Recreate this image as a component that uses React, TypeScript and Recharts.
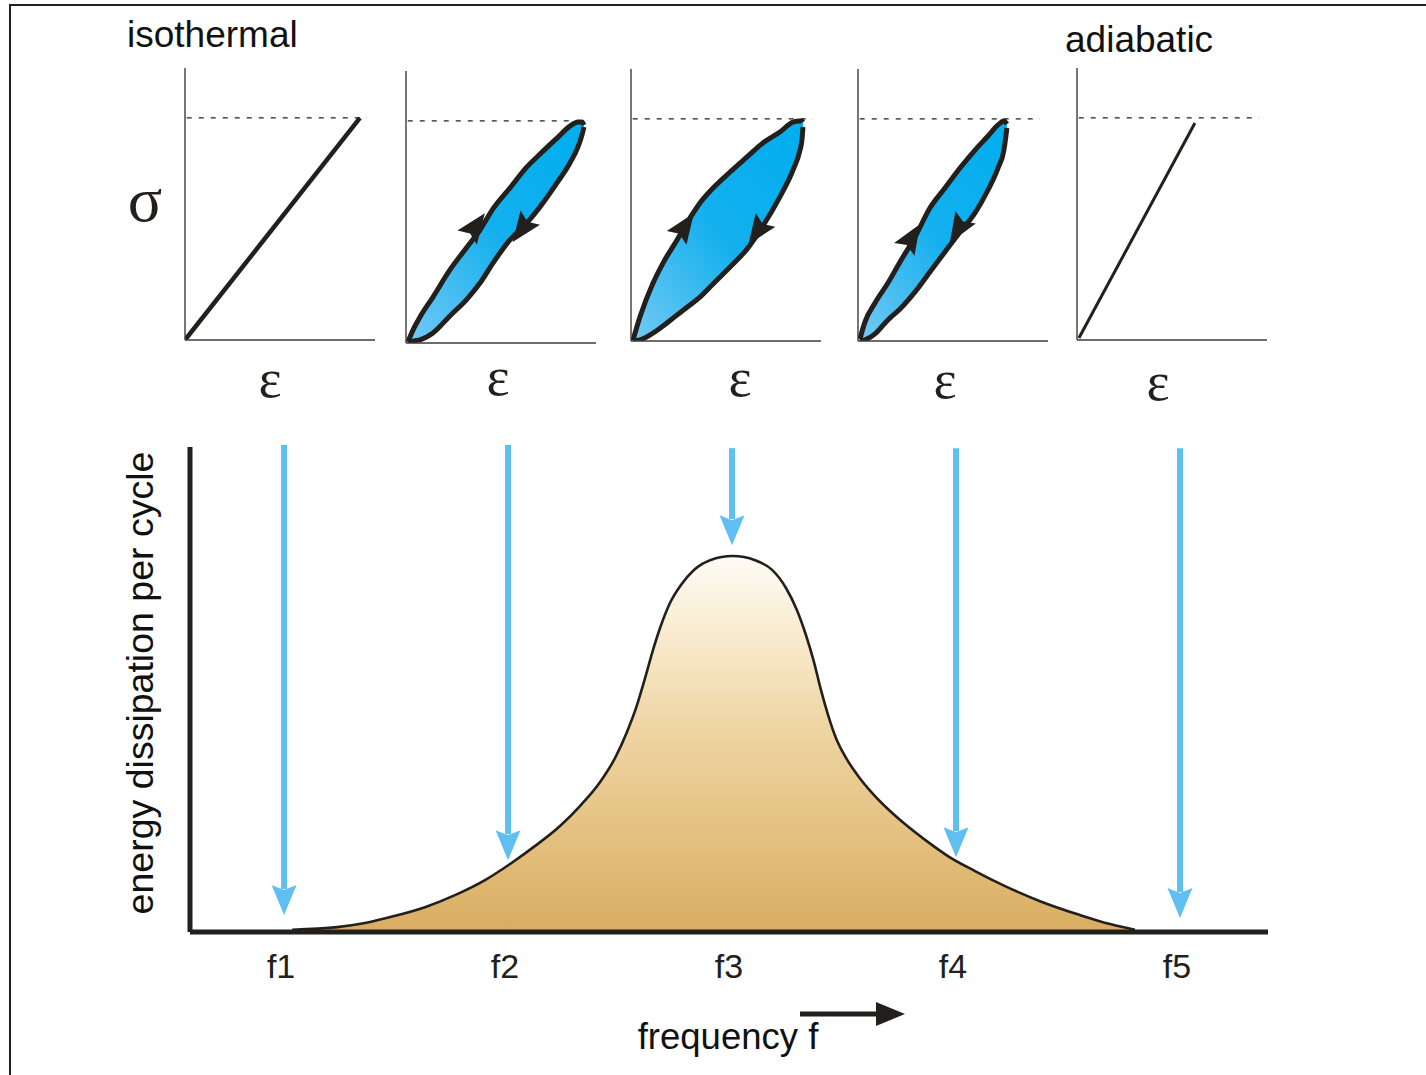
import React from 'react';
import { ComposedChart, Area, Line, Scatter, XAxis, YAxis, ReferenceLine } from 'recharts';

const INK = '#231f1c';
const BLUE = '#60bff2';
const SANS = '"Liberation Sans", Arial, Helvetica, sans-serif';
const SERIF = '"Liberation Serif", "Times New Roman", serif';

// ---- Stress–strain panels -------------------------------------------------
// strain: % of the isothermal peak strain, stress: % of the peak stress (dashed line)

const isothermalLine = [
  { strain: 0, stress: 0 },
  { strain: 100, stress: 100 },
];

const adiabaticLine = [
  { strain: 1.1, stress: 0.9 },
  { strain: 67.4, stress: 97.7 },
];

// hysteresis loops: band = [unloading branch, loading branch]
const loopF2 = [
  { strain: 1.1, band: [0.2, 0.5] },
  { strain: 4.6, band: [0.9, 6.8] },
  { strain: 8.0, band: [1.4, 11.7] },
  { strain: 15.4, band: [4.5, 20.7] },
  { strain: 25.1, band: [12.2, 32.9] },
  { strain: 34.9, band: [19.8, 43.2] },
  { strain: 42.3, band: [27.0, 50.9] },
  { strain: 49.7, band: [36.0, 60.4] },
  { strain: 59.4, band: [46.4, 69.8] },
  { strain: 69.1, band: [54.1, 79.3] },
  { strain: 76.6, band: [61.3, 85.1] },
  { strain: 86.3, band: [72.1, 92.3] },
  { strain: 93.7, band: [81.1, 97.7] },
  { strain: 98.3, band: [88.3, 99.5] },
  { strain: 100.6, band: [93.7, 99.5] },
  { strain: 101.7, band: [97.3, 98.2] },
];

const loopF3 = [
  { strain: 1.1, band: [0, 0.3] },
  { strain: 5.1, band: [0.5, 10.8] },
  { strain: 12.6, band: [3.6, 26.1] },
  { strain: 18.3, band: [6.8, 35.1] },
  { strain: 26.3, band: [11.7, 45.5] },
  { strain: 33.7, band: [16.2, 55.4] },
  { strain: 39.4, band: [19.8, 62.2] },
  { strain: 46.9, band: [25.7, 68.9] },
  { strain: 56.6, band: [33.3, 76.1] },
  { strain: 66.3, band: [41.4, 82.9] },
  { strain: 75.4, band: [51.8, 89.2] },
  { strain: 85.1, band: [64.9, 94.1] },
  { strain: 92.6, band: [77.0, 98.6] },
  { strain: 96.6, band: [86.0, 99.1] },
  { strain: 97.7, band: [90.5, 99.1] },
  { strain: 98.3, band: [96.4, 98.6] },
];

const loopF4 = [
  { strain: 1.1, band: [0, 0.9] },
  { strain: 4.0, band: [0.5, 8.6] },
  { strain: 9.7, band: [3.2, 17.1] },
  { strain: 17.1, band: [9.5, 26.1] },
  { strain: 24.0, band: [14.4, 35.6] },
  { strain: 32.6, band: [22.1, 46.8] },
  { strain: 41.1, band: [31.1, 59.9] },
  { strain: 49.7, band: [40.1, 68.9] },
  { strain: 58.3, band: [49.1, 77.9] },
  { strain: 66.9, band: [57.7, 86.0] },
  { strain: 74.3, band: [68.0, 92.3] },
  { strain: 80.0, band: [77.9, 97.3] },
  { strain: 83.4, band: [86.0, 99.1] },
  { strain: 85.1, band: [95.9, 97.7] },
];

// direction markers on the loops: dir = heading in degrees (screen space)
const arrowsF2 = [
  { strain: 40, stress: 53, dir: -54 },
  { strain: 66, stress: 51, dir: 126 },
];
const arrowsF3 = [
  { strain: 31, stress: 52, dir: -55 },
  { strain: 72, stress: 49, dir: 125 },
];
const arrowsF4 = [
  { strain: 31, stress: 47, dir: -58 },
  { strain: 57, stress: 50, dir: 122 },
];

// ---- Dissipation curve ------------------------------------------------------
const tickValues = [1, 2, 3, 4, 5];
const tickLabels = ['f1', 'f2', 'f3', 'f4', 'f5'];

// energy: % of the peak dissipation
const dissipation = [
  { f: 1.036, energy: 0.6 },
  { f: 1.237, energy: 1.3 },
  { f: 1.362, energy: 2.4 },
  { f: 1.496, energy: 4.3 },
  { f: 1.629, energy: 6.6 },
  { f: 1.763, energy: 9.8 },
  { f: 1.897, energy: 13.8 },
  { f: 2.009, energy: 18.1 },
  { f: 2.121, energy: 22.9 },
  { f: 2.232, energy: 28.2 },
  { f: 2.321, energy: 33.5 },
  { f: 2.411, energy: 39.9 },
  { f: 2.478, energy: 46.3 },
  { f: 2.531, energy: 53.2 },
  { f: 2.576, energy: 60.4 },
  { f: 2.612, energy: 67.6 },
  { f: 2.647, energy: 75.0 },
  { f: 2.683, energy: 81.6 },
  { f: 2.723, energy: 87.5 },
  { f: 2.772, energy: 92.3 },
  { f: 2.83, energy: 96.3 },
  { f: 2.902, energy: 98.9 },
  { f: 3.004, energy: 100 },
  { f: 3.103, energy: 98.9 },
  { f: 3.179, energy: 96.3 },
  { f: 3.241, energy: 91.5 },
  { f: 3.29, energy: 85.6 },
  { f: 3.33, energy: 79.0 },
  { f: 3.366, energy: 71.8 },
  { f: 3.397, energy: 64.4 },
  { f: 3.429, energy: 57.7 },
  { f: 3.464, energy: 51.6 },
  { f: 3.509, energy: 46.3 },
  { f: 3.563, energy: 41.5 },
  { f: 3.625, energy: 37.0 },
  { f: 3.696, energy: 32.7 },
  { f: 3.772, energy: 28.7 },
  { f: 3.862, energy: 24.5 },
  { f: 3.964, energy: 20.2 },
  { f: 4.085, energy: 16.2 },
  { f: 4.219, energy: 12.2 },
  { f: 4.375, energy: 8.2 },
  { f: 4.554, energy: 4.5 },
  { f: 4.688, energy: 2.1 },
  { f: 4.799, energy: 0.6 },
];

// vertical probe arrows at each test frequency
const probes = [
  { f: 1, top: 129.5, tip: 4.5 },
  { f: 2, top: 129.5, tip: 19.1 },
  { f: 3, top: 128.7, tip: 102.9 },
  { f: 4, top: 128.7, tip: 19.9 },
  { f: 5, top: 128.7, tip: 3.7 },
];

// ---- shapes -----------------------------------------------------------------
const LoopArrow = (p: any) => {
  const { cx, cy, payload } = p;
  if (cx == null || cy == null) return null;
  const a = (payload.dir * Math.PI) / 180;
  const L = 30;
  const W = 24;
  const ux = Math.cos(a);
  const uy = Math.sin(a);
  const px = -uy;
  const py = ux;
  const tx = cx + (ux * L) / 2;
  const ty = cy + (uy * L) / 2;
  const bx = cx - (ux * L) / 2;
  const by = cy - (uy * L) / 2;
  const d = `M${tx},${ty} L${bx + (px * W) / 2},${by + (py * W) / 2} L${bx + ux * 5},${by + uy * 5} L${bx - (px * W) / 2},${by - (py * W) / 2} Z`;
  return <path d={d} fill={INK} />;
};

const ProbeArrow = (p: any) => {
  const { x1, y1, y2 } = p;
  const top = Math.min(y1, y2);
  const tip = Math.max(y1, y2);
  const head = 30;
  const half = 12.5;
  return (
    <g>
      <line x1={x1} x2={x1} y1={top} y2={tip - head + 4} stroke={BLUE} strokeWidth={6} />
      <path
        d={`M${x1 - half},${tip - head} L${x1},${tip - head + 5} L${x1 + half},${tip - head} L${x1},${tip} Z`}
        fill={BLUE}
      />
    </g>
  );
};

const FreqTick = (p: any) => {
  const { x, y, payload } = p;
  return (
    <text x={x - 3} y={y + 38} textAnchor="middle" fontFamily={SANS} fontSize={34} fill={INK}>
      {tickLabels[payload.value - 1]}
    </text>
  );
};

// ---- panel ------------------------------------------------------------------
type PanelProps = {
  id: string;
  ox: number;
  oy: number;
  loop?: any[];
  line?: any[];
  lineWidth?: number;
  arrows?: any[];
  epsDx: number;
  epsDy: number;
  title?: string;
  titleX?: number;
  titleY?: number;
  sigma?: boolean;
};

const PW = 190;
const PH = 272;
const ML = 60;
const MT = 60;

function Panel(props: PanelProps) {
  const { id, ox, oy, loop, line, lineWidth = 4.5, arrows, epsDx, epsDy, title, titleX = 0, titleY = 0, sigma } = props;
  const data = loop ?? line ?? [];
  return (
    <div style={{ position: 'absolute', left: ox - ML, top: oy - MT - PH }}>
      <ComposedChart
        width={ML + PW + 10}
        height={MT + PH + 80}
        margin={{ top: MT, right: 10, bottom: 79, left: ML - 1 }}
        data={data}
      >
        <defs>
          <linearGradient id={`loopFill-${id}`} x1="1" y1="0" x2="0" y2="1">
            <stop offset="0" stopColor="#00aeef" />
            <stop offset="0.5" stopColor="#14b0ee" />
            <stop offset="1" stopColor="#74c9f4" />
          </linearGradient>
        </defs>
        <XAxis
          type="number"
          dataKey="strain"
          domain={[0, 108.6]}
          allowDataOverflow
          height={1}
          tick={false}
          tickLine={false}
          axisLine={{ stroke: '#3c3c3c', strokeWidth: 1.4 }}
          label={{
            content: () => (
              <text x={ML + epsDx} y={MT + PH + epsDy} textAnchor="middle" fontFamily={SERIF} fontSize={55} fill={INK}>
                ε
              </text>
            ),
          }}
        />
        <YAxis
          type="number"
          domain={[0, 122.5]}
          allowDataOverflow
          width={1}
          tick={false}
          tickLine={false}
          axisLine={{ stroke: '#3c3c3c', strokeWidth: 1.4 }}
          label={{
            content: () => (
              <g>
                {title ? (
                  <text x={titleX} y={titleY} fontFamily={SANS} fontSize={37} fill="#111">
                    {title}
                  </text>
                ) : null}
                {sigma ? (
                  <text x={ML - 40} y={MT + 153} textAnchor="middle" fontFamily={SERIF} fontSize={64} fill={INK}>
                    σ
                  </text>
                ) : null}
              </g>
            ),
          }}
        />
        <ReferenceLine
          segment={[
            { x: 1, y: 100 },
            { x: 104, y: 100 },
          ]}
          stroke="#222"
          strokeWidth={1.3}
          strokeDasharray="5 7"
        />
        {loop ? (
          <Area
            type="monotone"
            dataKey="band"
            fill={`url(#loopFill-${id})`}
            fillOpacity={1}
            stroke={INK}
            strokeWidth={5}
            strokeLinejoin="round"
            isAnimationActive={false}
            dot={false}
            activeDot={false}
          />
        ) : null}
        {line ? (
          <Line
            type="linear"
            dataKey="stress"
            stroke={INK}
            strokeWidth={lineWidth}
            dot={false}
            activeDot={false}
            isAnimationActive={false}
          />
        ) : null}
        {arrows ? <Scatter data={arrows} dataKey="stress" shape={LoopArrow} isAnimationActive={false} /> : null}
      </ComposedChart>
    </div>
  );
}

export default function App() {
  return (
    <div
      style={{
        position: 'absolute',
        left: 0,
        top: 0,
        width: 1426,
        height: 1075,
        overflow: 'hidden',
        background: '#fff',
      }}
    >
      <div
        style={{
          position: 'absolute',
          left: 9,
          top: 4,
          width: 1440,
          height: 1100,
          border: `2px solid ${INK}`,
          boxSizing: 'border-box',
        }}
      />
      <div style={{ position: 'absolute', left: 0, top: 0 }}>
        <ComposedChart width={1426} height={1075} margin={{ top: 447, right: 158, bottom: 142, left: 189 }} data={dissipation}>
          <defs>
            <linearGradient id="heatFill" x1="0" y1="0" x2="0" y2="1">
              <stop offset="0" stopColor="#fefcf7" />
              <stop offset="0.15" stopColor="#faf0d9" />
              <stop offset="0.45" stopColor="#efd6a4" />
              <stop offset="0.75" stopColor="#e4c07f" />
              <stop offset="1" stopColor="#d9ad62" />
            </linearGradient>
          </defs>
          <XAxis
            type="number"
            dataKey="f"
            domain={[0.58, 5.393]}
            allowDataOverflow
            ticks={tickValues}
            height={1}
            tickLine={false}
            tick={<FreqTick />}
            axisLine={{ stroke: INK, strokeWidth: 5 }}
            label={{
              content: () => (
                <g>
                  <text x={728} y={1049} textAnchor="middle" fontFamily={SANS} fontSize={36.5} fill="#111">
                    frequency f
                  </text>
                  <line x1={800} x2={880} y1={1014} y2={1014} stroke={INK} strokeWidth={5} />
                  <path d="M876,1002 L905,1014 L876,1026 Z" fill={INK} />
                </g>
              ),
            }}
          />
          <YAxis
            type="number"
            domain={[0, 129]}
            allowDataOverflow
            width={1}
            tick={false}
            tickLine={false}
            axisLine={{ stroke: INK, strokeWidth: 5 }}
            label={{
              content: () => (
                <text
                  x={153}
                  y={683}
                  transform="rotate(-90 153 683)"
                  textAnchor="middle"
                  fontFamily={SANS}
                  fontSize={37.5}
                  fill="#111"
                >
                  energy dissipation per cycle
                </text>
              ),
            }}
          />
          <Area
            type="monotone"
            dataKey="energy"
            fill="url(#heatFill)"
            fillOpacity={1}
            stroke={INK}
            strokeWidth={2.6}
            dot={false}
            activeDot={false}
            isAnimationActive={false}
          />
          {probes.map((p) => (
            <ReferenceLine
              key={p.f}
              segment={[
                { x: p.f, y: p.top },
                { x: p.f, y: p.tip },
              ]}
              ifOverflow="visible"
              shape={ProbeArrow}
            />
          ))}
        </ComposedChart>
      </div>

      <Panel id="p1" ox={185} oy={340} line={isothermalLine} lineWidth={4.5} epsDx={85} epsDy={57} title="isothermal" titleX={2} titleY={39} sigma />
      <Panel id="p2" ox={406} oy={343} loop={loopF2} arrows={arrowsF2} epsDx={92} epsDy={52} />
      <Panel id="p3" ox={631} oy={341} loop={loopF3} arrows={arrowsF3} epsDx={109} epsDy={55} />
      <Panel id="p4" ox={858} oy={341} loop={loopF4} arrows={arrowsF4} epsDx={87} epsDy={57} />
      <Panel id="p5" ox={1077} oy={340} line={adiabaticLine} lineWidth={3} epsDx={81} epsDy={60} title="adiabatic" titleX={48} titleY={44} />
    </div>
  );
}
